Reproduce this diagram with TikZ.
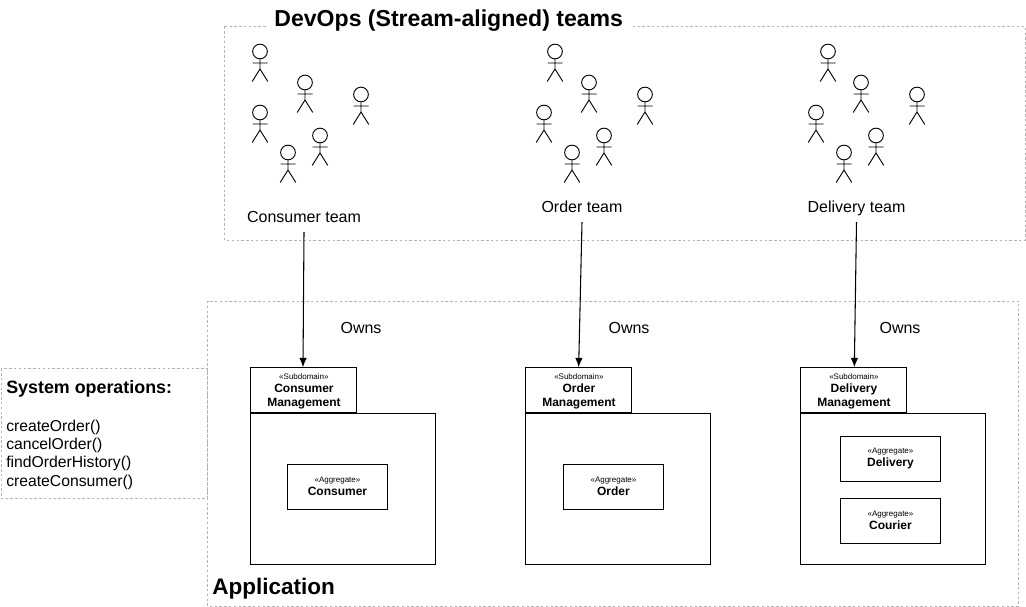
\documentclass[tikz,border=0pt]{standalone}
\usepackage{fontspec}
\setmainfont{Liberation Sans}
\usetikzlibrary{arrows.meta}
\newcommand{\fsTiny}{\fontsize{6}{7}\selectfont\mdseries}
\newcommand{\fsName}{\fontsize{9}{10.6}\selectfont\bfseries}
\newcommand{\fsHead}{\fontsize{13.4}{15}\selectfont\bfseries}
\newcommand{\fsBody}{\fontsize{11.8}{13.75}\selectfont\mdseries}
\tikzset{
  x=0.75pt,y=-0.75pt,
  frame/.style={draw=black!30,line width=0.75pt,dash pattern=on 1.8pt off 1.8pt},
  box/.style={draw=black,line width=0.8pt,inner sep=0pt,align=center},
  conn/.style={draw=black,line width=0.8pt,-{Latex[length=7pt,width=5.6pt]}},
  lbl/.style={inner sep=0pt,text height=8.6pt,text depth=2.5pt,font=\fontsize{12}{14}\selectfont},
  big/.style={inner sep=0pt,text height=12pt,text depth=3.4pt,font=\fontsize{17.3}{20}\selectfont\bfseries},
  actorline/.style={draw=black,line width=0.7pt},
  pics/actor/.style={code={
    \draw[actorline] (0,7.5) circle[radius=5.5pt];
    \draw[actorline] (0,14.8) -- (0,25) (-7.5,19) -- (7.5,19) (-7.8,37.5) -- (0,25) -- (7.8,37.5);
  }}
}
\newcommand{\pkg}[4]{%
  \node[box,minimum width=138.3pt,minimum height=113.25pt,anchor=north west] (#1body) at (#2,413.3) {};
  \node[box,minimum width=79.5pt,minimum height=33.75pt,anchor=south west] (#1tab) at (#2,413.3) {};
  \node[inner sep=0pt,align=center,anchor=north] (#1txt) at ([yshift=-4.4pt]#1tab.north) {\fsTiny «Subdomain»\\[-1.7pt]\fsName #3\\[-1.5pt]\fsName #4};
}
\newcommand{\agg}[4]{%
  \node[box,minimum width=74.6pt,minimum height=33.75pt,anchor=north west] (#1) at (#2,#3) {};
  \node[inner sep=0pt,align=center] (#1txt) at ([yshift=0.6pt]#1.center) {\fsTiny «Aggregate»\\[-2.4pt]\fsName #4};
}
\begin{document}
\begin{tikzpicture}
\useasboundingbox (0,0) rectangle (1026,607);
\draw[frame] (224.6,26.3) rectangle (1025,240);
\draw[frame] (207.6,301) rectangle (1018.7,606);
\draw[frame] (1.3,368.3) rectangle (207.6,498.3);
\node[big,fill=white,inner xsep=5pt,anchor=west] (title) at (267.5,21) {DevOps (Stream-aligned) teams};
\node[big,anchor=west,font=\fontsize{16.9}{20}\selectfont\bfseries] (app) at (212,589) {Application};
\node[inner sep=0pt,anchor=north west,align=left] (ops) at (6,380) {\fsHead System operations:\\[16.5pt]\fsBody createOrder()\\[1.75pt]\fsBody cancelOrder()\\[1.75pt]\fsBody findOrderHistory()\\[1.75pt]\fsBody createConsumer()};
\foreach \i/\xa/\ya in {a/260/44,b/305/75,c/361/87,d/260/105,e/320/128,f/288/145,
  g/555/44,h/589/75,i/645/87,j/544/105,k/604/128,l/572/145,
  m/828/44,n/861/75,o/917/87,p/816/105,q/876/128,r/844/145}
  \pic (\i) at (\xa,\ya) {actor};
\node[lbl,minimum height=20pt] (t1) at (304,218.5) {Consumer team};
\node[lbl,minimum height=20pt] (t2) at (582,208.5) {Order team};
\node[lbl,minimum height=20pt] (t3) at (856.5,208.5) {Delivery team};
\pkg{p1}{250.4}{Consumer}{Management}
\pkg{p2}{525.4}{Order}{Management}
\pkg{p3}{800.4}{Delivery}{Management}
\agg{a1}{287.2}{464.3}{Consumer}
\agg{a2}{563.2}{464.3}{Order}
\agg{a3}{840.2}{436.3}{Delivery}
\agg{a4}{840.2}{498.3}{Courier}
\node[lbl] (o1) at (361,329.5) {Owns};
\node[lbl] (o2) at (629,329.5) {Owns};
\node[lbl] (o3) at (900,329.5) {Owns};
\draw[conn] (t1.south) -- ([xshift=-0.7pt]p1tab.north);
\draw[conn] (t2.south) -- ([xshift=-0.2pt]p2tab.north);
\draw[conn] (t3.south) -- ([xshift=0.3pt]p3tab.north);
\end{tikzpicture}
\end{document}
